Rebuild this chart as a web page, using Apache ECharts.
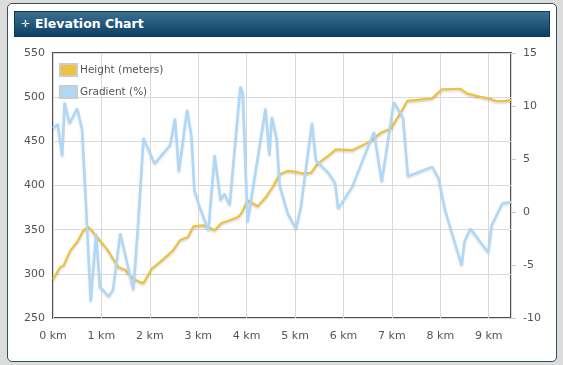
<!DOCTYPE html>
<html>
<head>
<meta charset="utf-8">
<script src="https://cdn.jsdelivr.net/npm/echarts@6/dist/echarts.min.js"></script>
<style>
html,body{margin:0;padding:0;width:563px;height:365px;background:#dcdcdc;overflow:hidden;}
#panel{position:absolute;left:7px;top:3px;width:548px;height:357px;background:#fff;border:1px solid #34505f;border-radius:5px;}
#bar{position:absolute;left:14px;top:11px;width:536px;height:26px;background:linear-gradient(#3b7093,#0b3f63);border:1px solid #0a3a5a;box-sizing:border-box;}
#bar span{position:absolute;top:0;line-height:24px;color:#fff;font-family:"DejaVu Sans",sans-serif;}
#icon{left:6px;font-size:10px;}
#ttl{left:20px;font-size:12.5px;font-weight:bold;}
#chart{position:absolute;left:0;top:0;width:563px;height:365px;}
</style>
</head>
<body>
<div id="panel"></div>
<div id="bar"><span id="icon">✛</span><span id="ttl">Elevation Chart</span></div>
<div id="chart"></div>
<script>
var heightKm = [0.00,0.15,0.22,0.36,0.50,0.63,0.73,0.80,0.94,1.11,1.35,1.49,1.66,1.80,1.87,2.04,2.21,2.48,2.62,2.79,2.90,3.10,3.21,3.34,3.48,3.65,3.82,3.89,4.02,4.23,4.40,4.54,4.68,4.85,5.02,5.16,5.33,5.47,5.74,5.84,6.18,6.53,6.77,6.98,7.15,7.32,7.83,8.03,8.41,8.55,8.83,9.00,9.14,9.31,9.46];
var heightM = [293.7,307.6,309.5,326.6,336,349.3,353,349,339.8,328.5,307.6,304.7,294.5,290.6,289.5,305.8,313.3,326.6,338,341.7,353.8,355,353,349.3,357.5,360.6,364.3,368.2,383.3,376.5,387,398.4,412.8,416.5,415.4,413.6,414.2,424.9,436.2,440.8,440,449.4,459.6,464.6,479.7,495.9,498.6,508.8,509.5,504.3,500.4,498.6,495.9,495.6,496.7];
var gradKm = [0.00,0.10,0.19,0.24,0.34,0.50,0.60,0.67,0.78,0.89,0.97,1.15,1.24,1.39,1.66,1.75,1.87,2.10,2.42,2.52,2.60,2.77,2.86,2.92,3.03,3.21,3.34,3.46,3.54,3.65,3.72,3.87,3.92,4.02,4.39,4.47,4.52,4.62,4.68,4.85,5.02,5.12,5.35,5.43,5.70,5.83,5.89,6.18,6.63,6.79,7.04,7.23,7.33,7.83,7.96,8.10,8.44,8.50,8.62,8.99,9.06,9.28,9.46];
var gradPct = [7.88,8.29,5.27,10.32,8.36,9.77,7.82,1.74,-8.44,-2.04,-7.07,-7.96,-7.33,-2.01,-7.35,-1.73,6.99,4.56,6.31,8.83,3.80,9.64,7.16,2.05,0.48,-1.73,5.36,1.11,1.74,0.64,4.26,11.82,11.19,-0.94,9.77,5.36,8.98,6.94,2.53,-0.15,-1.57,0.48,8.41,4.89,3.63,2.69,0.32,2.37,7.56,2.84,10.35,8.90,3.38,4.26,3.24,0.16,-5.03,-2.77,-1.57,-3.82,-1.25,0.80,0.95];
var leftTicks = {min:250, max:550, step:50};
var rightTicks = {min:-10, max:15, step:5};
var xTicks = {min:0, max:9.46, step:1};

function zip(a,b){var r=[];for(var i=0;i<a.length;i++){r.push([a[i],b[i]]);}return r;}
var font = '"DejaVu Sans", sans-serif';
var labelCol = '#545454';
var chart = echarts.init(document.getElementById('chart'));
chart.setOption({
  animation:false,
  grid:{left:53,top:53,right:52,bottom:47,show:true,borderColor:'#4f4f4f',borderWidth:2,backgroundColor:'transparent'},
  legend:{
    orient:'vertical',left:59,top:63,padding:0,itemWidth:17,itemHeight:12,itemGap:8,
    icon:'rect',
    textStyle:{fontFamily:font,fontSize:10.5,color:labelCol,padding:[0,0,0,-2],lineHeight:12},
    data:['Height (meters)','Gradient (%)']
  },
  xAxis:{type:'value',min:xTicks.min,max:xTicks.max,interval:xTicks.step,
    axisLine:{show:false},axisTick:{show:false},
    splitLine:{show:true,lineStyle:{color:'#d9d9d9',width:1}},
    axisLabel:{fontFamily:font,fontSize:11,color:labelCol,margin:13,
      formatter:function(v){return Math.abs(v-Math.round(v))<1e-6 ? Math.round(v)+' km' : '';}}
  },
  yAxis:[
    {type:'value',min:leftTicks.min,max:leftTicks.max,interval:leftTicks.step,position:'left',
     axisLine:{show:false},axisTick:{show:false},
     splitLine:{show:true,lineStyle:{color:'#d9d9d9',width:1}},
     axisLabel:{fontFamily:font,fontSize:11,color:labelCol,margin:8}},
    {type:'value',min:rightTicks.min,max:rightTicks.max,interval:rightTicks.step,position:'right',
     axisLine:{show:false},
     axisTick:{show:true,inside:false,length:5,lineStyle:{color:'#c8c8c8'}},
     splitLine:{show:false},
     axisLabel:{fontFamily:font,fontSize:11,color:labelCol,margin:12}}
  ],
  series:[
    {name:'Height (meters)',type:'line',yAxisIndex:0,data:zip(heightKm,heightM),
     showSymbol:false,symbol:'none',
     itemStyle:{color:'#edc240',borderColor:'#cccccc',borderWidth:1},
     lineStyle:{color:'#edc240',width:2.2,shadowColor:'rgba(0,0,0,0.18)',shadowBlur:2,shadowOffsetY:1.5}},
    {name:'Gradient (%)',type:'line',yAxisIndex:1,data:zip(gradKm,gradPct),
     showSymbol:false,symbol:'none',
     itemStyle:{color:'#afd8f8',borderColor:'#cccccc',borderWidth:1},
     lineStyle:{color:'#afd8f8',width:2.6,shadowColor:'rgba(0,0,0,0.12)',shadowBlur:2,shadowOffsetY:1.5}}
  ]
});
</script>
</body>
</html>
